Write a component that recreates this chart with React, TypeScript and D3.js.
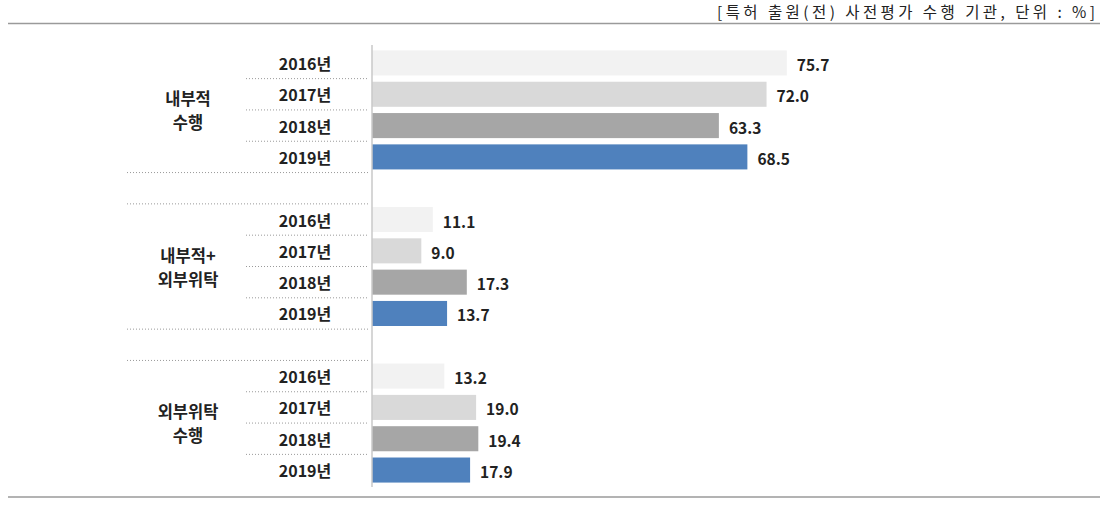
import React from "react";
import * as d3 from "d3";

const groups: string[][] = [["내부적", "수행"], ["내부적+", "외부위탁"], ["외부위탁", "수행"]];
const years: string[] = ["2016년", "2017년", "2018년", "2019년"];
const v2016: number[] = [75.7, 11.1, 13.2];
const v2017: number[] = [72.0, 9.0, 19.0];
const v2018: number[] = [63.3, 17.3, 19.4];
const v2019: number[] = [68.5, 13.7, 17.9];
const series: number[][] = [v2016, v2017, v2018, v2019];
const colors: string[] = ["#f2f2f2", "#d9d9d9", "#a6a6a6", "#4f81bd"];
const title = "[특허 출원(전) 사전평가 수행 기관, 단위 : %]";

const W = 1107;
const H = 507;
const FONT = "'Noto Sans CJK KR', 'Noto Sans', sans-serif";

export default function App() {
  const slots: string[] = [];
  groups.forEach((_, g) => {
    years.forEach((_, i) => slots.push(`${g}-${i}`));
    if (g < groups.length - 1) slots.push(`gap-${g}`);
  });
  const y = d3.scaleBand<string>().domain(slots).range([47.3, 485.7]).paddingInner(0.2).paddingOuter(0.1);
  const x = d3.scaleLinear().domain([0, 100]).range([372, 920]);
  const step = y.step();
  const bw = y.bandwidth();
  const cy = (g: number, i: number) => (y(`${g}-${i}`) as number) + bw / 2;

  const dotted: { x1: number; x2: number; y: number }[] = [];
  groups.forEach((_, g) => {
    for (let i = 0; i < years.length - 1; i++) dotted.push({ x1: 246, x2: 368, y: cy(g, i) + step / 2 });
    if (g > 0) dotted.push({ x1: 127, x2: 368, y: cy(g, 0) - step / 2 });
    if (g < groups.length - 1) dotted.push({ x1: 127, x2: 368, y: cy(g, years.length - 1) + step / 2 });
  });

  return (
    <svg width={W} height={H} style={{ position: "absolute", left: 0, top: 0, background: "#fff" }} fontFamily={FONT}>
      <text x={1095} y={18} textAnchor="end" fontSize={15.5} fill="#222" textLength={378} lengthAdjust="spacing">
        {title}
      </text>
      <line x1={8} x2={1100} y1={23.5} y2={23.5} stroke="#9a9a9a" strokeWidth={1.5} />
      <line x1={8} x2={1100} y1={497} y2={497} stroke="#9a9a9a" strokeWidth={1.5} />
      {dotted.map((d, k) => (
        <line key={k} x1={d.x1} x2={d.x2} y1={d.y} y2={d.y} stroke="#9a9a9a" strokeWidth={1} strokeDasharray="1,2" />
      ))}
      {groups.map((lines, g) => {
        const mid = (cy(g, 0) + cy(g, years.length - 1)) / 2;
        return (
          <g key={g}>
            {lines.map((t, li) => (
              <text key={li} x={188} y={mid + (li - (lines.length - 1) / 2) * 24} textAnchor="middle" dominantBaseline="central" fontSize={16.5} fontWeight="bold" fill="#222">
                {t}
              </text>
            ))}
            {years.map((yr, i) => (
              <g key={i}>
                <text x={305} y={cy(g, i)} textAnchor="middle" dominantBaseline="central" fontSize={16} fontWeight="bold" fill="#222">
                  {yr}
                </text>
                <rect x={x(0)} y={y(`${g}-${i}`) as number} width={x(series[i][g]) - x(0)} height={bw} fill={colors[i]} />
                <text x={x(series[i][g]) + 10} y={cy(g, i) + 1} dominantBaseline="central" fontSize={15.5} fontWeight="bold" fill="#222">
                  {series[i][g].toFixed(1)}
                </text>
              </g>
            ))}
          </g>
        );
      })}
      <line x1={372} x2={372} y1={45} y2={487} stroke="#c8c8c8" strokeWidth={1.5} />
    </svg>
  );
}
